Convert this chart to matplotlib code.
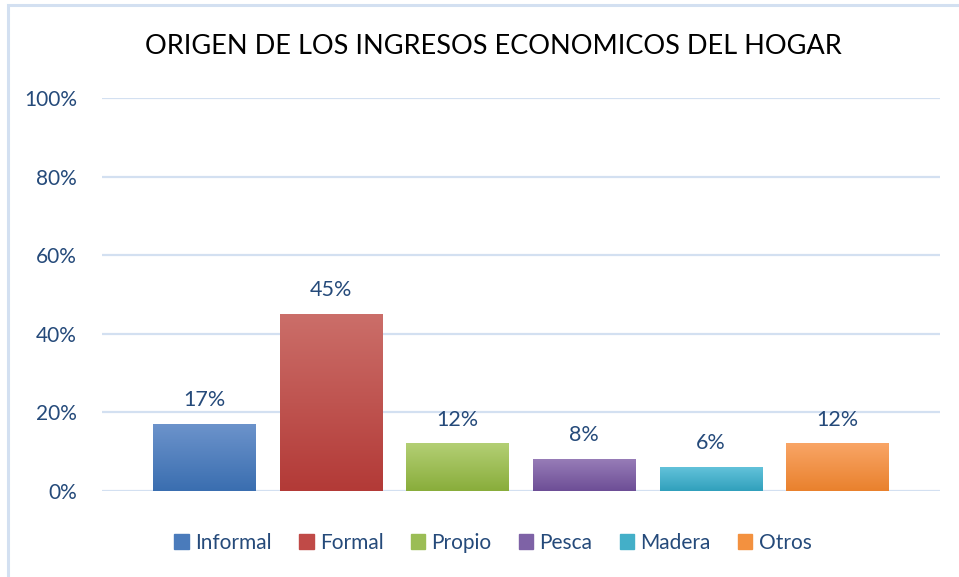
import numpy as np
import matplotlib.pyplot as plt
from matplotlib.colors import LinearSegmentedColormap
from matplotlib.patches import Rectangle

# --- DATA ---
categories = ["Informal", "Formal", "Propio", "Pesca", "Madera", "Otros"]
values = [17, 45, 12, 8, 6, 12]
value_labels = ["17%", "45%", "12%", "8%", "6%", "12%"]
y_ticks = [0, 20, 40, 60, 80, 100]
y_tick_labels = ["0%", "20%", "40%", "60%", "80%", "100%"]

# gradient colours (top, bottom) per category
top_colors = ["#6c93cb", "#cb6e69", "#b3cf74", "#977cb7", "#62c2da", "#f9a566"]
bottom_colors = ["#3a6eb0", "#b33a37", "#89ad3b", "#6d4e96", "#31a0bc", "#e9812d"]
legend_colors = ["#4a7bbb", "#c04a47", "#9bbd55", "#7e62a6", "#43afc8", "#f3913f"]

TEXT_BLUE = "#254a7a"
GRID = "#d3e0f1"
FONT = ["Lato", "DejaVu Sans"]

plt.rcParams['font.family'] = FONT

W, H = 959, 577
fig = plt.figure(figsize=(W / 100, H / 100), dpi=100)

# chart frame (only left/top visible in the reference)
fig.patches.append(Rectangle((8 / W, -0.1), 1.2, (H - 5) / H + 0.1,
                             transform=fig.transFigure, fill=False,
                             edgecolor=GRID, linewidth=2.2))

# plot area: x 102..940, y 98..491 pixels
ax = fig.add_axes([102 / W, 1 - 491 / H, (940 - 102) / W, (491 - 98) / H])

x = np.arange(len(categories))
bar_w = 0.81

for i, (v, ct, cb) in enumerate(zip(values, top_colors, bottom_colors)):
    cmap = LinearSegmentedColormap.from_list(f"g{i}", [cb, ct])
    grad = np.linspace(0, 1, 100).reshape(-1, 1)
    ax.imshow(grad, cmap=cmap, origin="lower", aspect="auto",
              extent=(x[i] - bar_w / 2, x[i] + bar_w / 2, 0, v), zorder=3)
    ax.text(x[i], v + 3.6, value_labels[i], ha="center", va="bottom",
            fontsize=15.5, color=TEXT_BLUE, zorder=4)

ax.set_xlim(-0.81, 5.81)
ax.set_ylim(0, 100)

ax.set_yticks(y_ticks)
ax.set_yticklabels(y_tick_labels)
ax.tick_params(axis="y", length=0, pad=18, labelsize=15, labelcolor=TEXT_BLUE)
ax.set_xticks([])
ax.grid(axis="y", color=GRID, linewidth=1.6, zorder=0)
ax.set_axisbelow(True)
for s in ax.spines.values():
    s.set_visible(False)

fig.text(493 / W, 1 - 47 / H, "ORIGEN DE LOS INGRESOS ECONOMICOS DEL HOGAR",
         ha="center", va="center", fontsize=19.5, color="black")

handles = [Rectangle((0, 0), 1, 1, color=c) for c in legend_colors]
fig.legend(handles, categories, loc="center", bbox_to_anchor=(493 / W, 1 - 543 / H),
           ncol=6, frameon=False, fontsize=15, labelcolor=TEXT_BLUE,
           handlelength=0.7, handleheight=0.7, handletextpad=0.3,
           columnspacing=1.3)

fig.savefig("out.png", dpi=100)
